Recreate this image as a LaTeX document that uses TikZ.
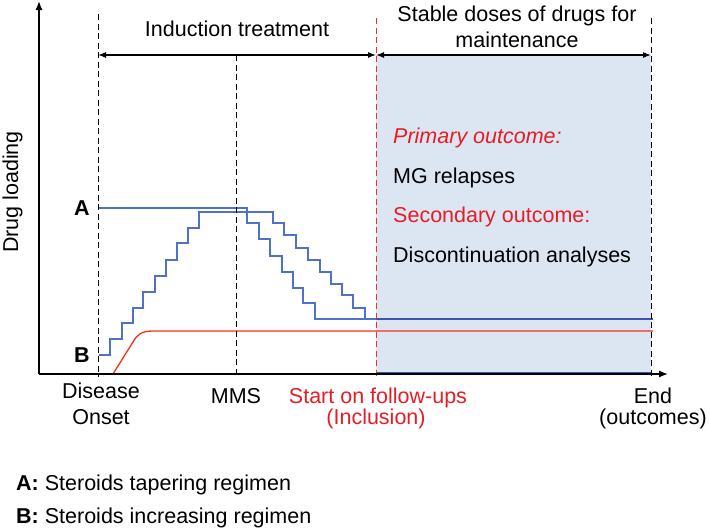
\documentclass[tikz,border=0pt]{standalone}
\usepackage{fontspec}
\setmainfont{Liberation Sans}
\usetikzlibrary{arrows.meta}
\definecolor{boxfill}{RGB}{220,230,242}
\definecolor{stair}{RGB}{78,114,200}
\definecolor{deepblue}{RGB}{62,82,178}
\definecolor{redline}{RGB}{250,45,25}
\definecolor{redtext}{RGB}{232,28,36}
\begin{document}
\begin{tikzpicture}[x=1pt,y=-1pt,
  lbl/.style={font=\fontsize{21.5}{25}\selectfont, inner sep=0pt, anchor=base},
  lblw/.style={lbl, anchor=base west},
  leg/.style={font=\fontsize{21.5}{25}\selectfont, inner sep=0pt, anchor=base west},
  vdash/.style={line width=1pt, dash pattern=on 6pt off 3.5pt},
  axisline/.style={line width=1.3pt, -{Latex[length=9pt,width=7pt]}},
  span/.style={line width=1.1pt, {Latex[length=8pt,width=6pt]}-{Latex[length=8pt,width=6pt]}},
  stairline/.style={stair, line width=1.4pt},
  redcurve/.style={redline, line width=1.3pt}]
\useasboundingbox (0,0) rectangle (709,530);

% coordinates
\coordinate (origin) at (39,374);
\coordinate (yTip) at (39,1);
\coordinate (xTip) at (668,374);
\coordinate (onsetTop) at (98,14);
\coordinate (onsetBot) at (98,377);
\coordinate (mmsTop) at (236,55);
\coordinate (mmsBot) at (236,377);
\coordinate (inclTop) at (376,18);
\coordinate (inclBot) at (376,378);
\coordinate (endTop) at (651,18);
\coordinate (endBot) at (651,378);
\coordinate (indL) at (98,55);
\coordinate (indR) at (376,55);
\coordinate (stL) at (376,55);
\coordinate (stR) at (651,55);

% maintenance box
\fill[boxfill] (376,55) rectangle (651,373);
\draw[deepblue, line width=0.8pt] (376,372) -- (651,372);

% regimen A (tapering)
\draw[stairline] (99,208) -- (247,208) -- (247,223) -- (259,223) -- (259,239)
  -- (270,239) -- (270,256) -- (282,256) -- (282,272) -- (293,272) -- (293,288)
  -- (303,288) -- (303,303) -- (315,303) -- (315,319) -- (376,319);
% regimen B (increasing)
\draw[stairline] (99,355) -- (110,355) -- (110,339) -- (122,339) -- (122,323)
  -- (133,323) -- (133,308) -- (143,308) -- (143,292) -- (155,292) -- (155,276)
  -- (166,276) -- (166,260) -- (177,260) -- (177,243) -- (188,243) -- (188,228)
  -- (199,228) -- (199,212) -- (273,212) -- (273,223) -- (284,223) -- (284,235)
  -- (296,235) -- (296,248) -- (308,248) -- (308,260) -- (320,260) -- (320,272)
  -- (331,272) -- (331,284) -- (342,284) -- (342,295) -- (353,295) -- (353,308)
  -- (365,308) -- (365,319) -- (376,319);
\draw[deepblue, line width=1.2pt] (376,319) -- (653,319);
% red curve
\draw[redcurve] (113,374) -- (133,342) .. controls (137,335) and (141,331) .. (153,331) -- (653,331);

% dashed lines
\draw[vdash] (onsetTop) -- (onsetBot);
\draw[vdash] (mmsTop) -- (mmsBot);
\draw[vdash, redline] (inclTop) -- (inclBot);
\draw[vdash] (endTop) -- (endBot);

% axes
\draw[axisline] (origin) -- (yTip);
\draw[axisline] (origin) -- (xTip);

% span arrows
\draw[span] (indL) -- (indR);
\draw[span] (stL) -- (stR);

% texts
\node[lbl] (induction) at (237,36) {Induction treatment};
\node[lbl] (stable1) at (517,21) {Stable doses of drugs for};
\node[lbl] (stable2) at (517,47) {maintenance};
\node[lbl, rotate=90] (ylabel) at (18,192) {Drug loading};
\node[lbl, anchor=center, font=\fontsize{21.5}{25}\bfseries] (labA) at (82,208) {A};
\node[lbl, anchor=center, font=\fontsize{21.5}{25}\bfseries] (labB) at (82,355) {B};

\node[lblw, text=redtext, font=\fontsize{21.5}{25}\itshape] (prim) at (393,143) {Primary outcome:};
\node[lblw] (mg) at (393,183) {MG relapses};
\node[lblw, text=redtext] (sec) at (393,222) {Secondary outcome:};
\node[lblw] (disc) at (393,262) {Discontinuation analyses};

\node[lbl] (dis1) at (101,398) {Disease};
\node[lbl] (dis2) at (101,424) {Onset};
\node[lbl] (mms) at (236,403) {MMS};
\node[lbl, text=redtext] (start1) at (378,403) {Start on follow-ups};
\node[lbl, text=redtext] (start2) at (376,424) {(Inclusion)};
\node[lbl] (end1) at (653,403) {End};
\node[lbl] (end2) at (653,424) {(outcomes)};

\node[leg] (legA) at (16,490) {\textbf{A:} Steroids tapering regimen};
\node[leg] (legB) at (16,523) {\textbf{B:} Steroids increasing regimen};
\end{tikzpicture}
\end{document}
